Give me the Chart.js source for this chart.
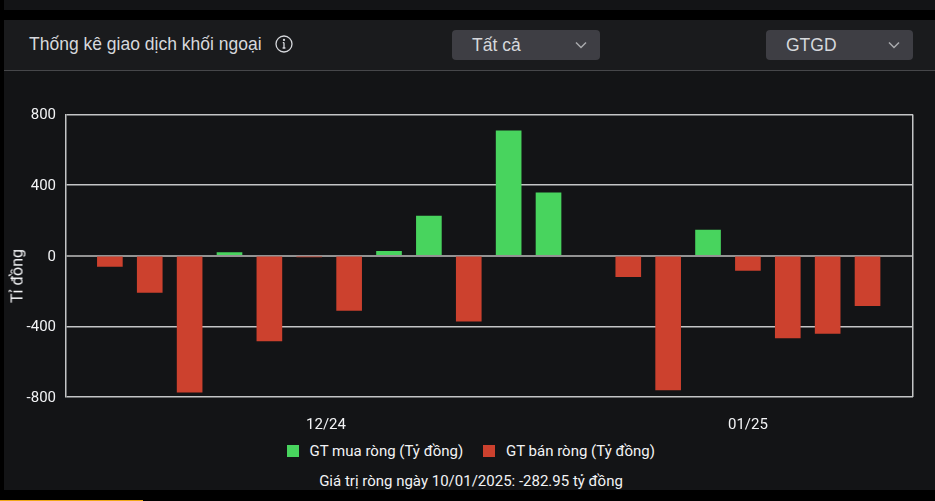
<!DOCTYPE html>
<html>
<head>
<meta charset="utf-8">
<script src="https://cdn.jsdelivr.net/npm/chart.js@4"></script>
<style>
  html, body { margin: 0; padding: 0; width: 935px; height: 501px; background: #000; overflow: hidden; }
  .strip { position: absolute; left: 4px; right: 0; top: 0; height: 10px; background: #131416; }
  .panel { position: absolute; left: 4px; right: 0; top: 20px; height: 470px; background: #131416; }
  .head { position: absolute; left: 0; right: 0; top: 0; height: 50px; background: #1a1b1d; border-bottom: 1px solid #46474a; box-sizing: content-box; }
  .title { position: absolute; left: 25px; top: 14px; font: 17.5px "Liberation Sans"; color: #d6d8dc; white-space: nowrap; }
  .info { position: absolute; left: 271px; top: 15px; }
  .drop { position: absolute; top: 10px; height: 30px; background: #3e3e44; border-radius: 4px; font: 17.5px/30px "Liberation Sans"; color: #d6d8dc; }
  .drop span { position: absolute; top: 0; white-space: nowrap; }
  .drop svg { position: absolute; top: 11px; }
  #d1 { left: 448px; width: 148px; }
  #d2 { left: 762px; width: 147px; }
  canvas { position: absolute; left: 4px; top: 71px; }
  #legend { position: absolute; top: 442px; left: 4px; width: 931px; height: 18px; font: 15px/18px Roboto; color: #f2f3f5; }
  #legend i { position: absolute; top: 3px; width: 12px; height: 12px; }
  #legend span { position: absolute; white-space: nowrap; }
  #note { position: absolute; left: 4px; width: 934px; top: 472px; text-align: center; font: 15px/18px Roboto; color: #f2f3f5; }
  #ytitle { position: absolute; left: 17px; top: 276px; transform: translate(-50%, -50%) rotate(-90deg); font: 16px Roboto; color: #f2f3f5; white-space: nowrap; }
  .edge { position: absolute; left: 0; top: 500px; width: 143px; height: 1px; background: #f0a818; }
</style>
</head>
<body>
<div class="strip"></div>
<div class="panel">
  <div class="head">
    <div class="title">Thống kê giao dịch khối ngoại</div>
    <svg class="info" width="18" height="18" viewBox="0 0 18 18" fill="none" stroke="#d6d8dc" stroke-width="1.3">
      <circle cx="9" cy="9" r="8"></circle>
      <path d="M9 7.6v5.4M7.6 13h2.8M7.8 7.6H9" stroke-width="1.3"></path>
      <circle cx="9" cy="4.9" r="0.5"></circle>
    </svg>
    <div class="drop" id="d1"><span style="left:20px">Tất cả</span>
      <svg style="left:123px" width="12" height="8" viewBox="0 0 12 8" fill="none" stroke="#a9aaae" stroke-width="1.5"><path d="M1 1.5l5 5 5-5"></path></svg></div>
    <div class="drop" id="d2"><span style="left:20px">GTGD</span>
      <svg style="left:122px" width="12" height="8" viewBox="0 0 12 8" fill="none" stroke="#a9aaae" stroke-width="1.5"><path d="M1 1.5l5 5 5-5"></path></svg></div>
  </div>
</div>
<canvas id="myChart" width="931" height="364"></canvas>
<div id="ytitle">Tỉ đồng</div>
<div id="legend"></div>
<div id="note">Giá trị ròng ngày 10/01/2025: -282.95 tỷ đồng</div>
<div class="edge"></div>

<script>
const categories = ['16/12','17/12','18/12','19/12','20/12','23/12','24/12','25/12','26/12','27/12','30/12','31/12','01/01','02/01','03/01','06/01','07/01','08/01','09/01','10/01'];
const muaRong = [null,null,null,18,null,null,null,25,225,null,708,357,null,null,null,145,null,null,null,null];
const banRong = [-60,-208,-772,null,-482,-6,-310,null,null,-370,null,null,null,-118,-760,null,-83,-465,-440,-282.95];
const yTicks = [-800,-400,0,400,800];
const xTickLabels = ['12/24','01/25'];
const xTickSlots = [5.42,16];
const serieMua = 'GT mua ròng (Tỷ đồng)';
const serieBan = 'GT bán ròng (Tỷ đồng)';
const colorMua = '#48d45e';
const colorBan = '#cc412e';

const points = (arr) => arr.map((v, i) => ({ x: i, y: v }));

// right side of the plot box, the other sides come from the axes
const frame = {
  id: 'frame',
  beforeDatasetsDraw(chart) {
    const a = chart.chartArea, c = chart.ctx;
    c.save();
    c.strokeStyle = '#c4c5c6';
    c.lineWidth = 1.5;
    c.beginPath();
    c.moveTo(a.right - 0.25, a.top);
    c.lineTo(a.right - 0.25, a.bottom);
    c.stroke();
    c.restore();
  }
};

const ctx = document.getElementById('myChart');
const chart = new Chart(ctx, {
  type: 'bar',
  plugins: [frame],
  data: {
    datasets: [
      { label: serieMua, data: points(muaRong), backgroundColor: colorMua, barThickness: 25, grouped: false },
      { label: serieBan, data: points(banRong), backgroundColor: colorBan, barThickness: 25, grouped: false }
    ]
  },
  options: {
    responsive: false,
    animation: false,
    layout: { padding: { top: 43.5, right: 22, left: 0, bottom: 0 } },
    plugins: { legend: { display: false }, tooltip: { enabled: false } },
    scales: {
      x: {
        type: 'linear',
        offset: false,
        min: -1.1,
        max: 20.14,
        grid: { display: false },
        border: { display: false },
        afterBuildTicks: (s) => { s.ticks = xTickSlots.map((v) => ({ value: v })); },
        afterFit: (s) => { s.height = 38; },
        ticks: {
          autoSkip: false,
          maxRotation: 0,
          padding: 11,
          color: '#f2f3f5',
          font: { family: 'Roboto', size: 15 },
          callback: (v) => xTickLabels[xTickSlots.indexOf(v)]
        }
      },
      y: {
        min: -800,
        max: 800,
        afterBuildTicks: (s) => { s.ticks = yTicks.map((v) => ({ value: v })); },
        afterFit: (s) => { s.width = 62; },
        grid: {
          color: (c) => c.tick.value === 0 ? '#939393' : '#c4c5c6',
          lineWidth: (c) => c.tick.value === 0 ? 2 : 1.5,
          drawTicks: false
        },
        border: { color: '#c4c5c6', width: 1.5 },
        ticks: { color: '#f2f3f5', padding: 10, labelOffset: 1, font: { family: 'Roboto', size: 15 } }
      }
    }
  }
});

// legend drawn from the datasets
const legend = document.getElementById('legend');
chart.data.datasets.forEach((d, i) => {
  const box = document.createElement('i');
  box.style.background = d.backgroundColor;
  box.style.left = (i == 0 ? 283 : 479) + 'px';
  const txt = document.createElement('span');
  txt.textContent = d.label;
  txt.style.left = (i == 0 ? 305.5 : 502) + 'px';
  legend.appendChild(box);
  legend.appendChild(txt);
});
</script>
</body>
</html>
